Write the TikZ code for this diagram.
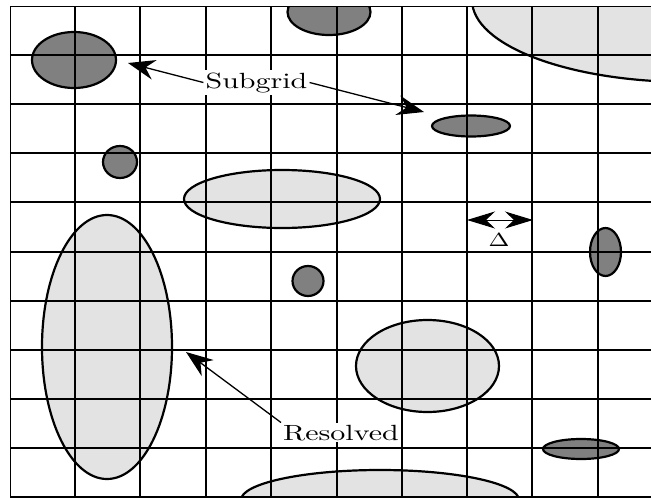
\documentclass[tikz,border=0pt]{standalone}
\usetikzlibrary{arrows.meta}
\definecolor{darkfill}{HTML}{808080}
\definecolor{lightfill}{HTML}{E3E3E3}
\begin{document}
\begin{tikzpicture}[x=1pt,y=-1pt,
  blob/.style={line width=2.2pt, draw=black},
  darkblob/.style={blob, fill=darkfill},
  lightblob/.style={blob, fill=lightfill},
  gridline/.style={line width=1.3pt},
  pointer/.style={line width=1.3pt, -{Stealth[length=27pt,width=20pt,inset=9pt]}},
  lbl/.style={fill=white, inner sep=2pt, font=\fontsize{10}{12}\selectfont}
]
\useasboundingbox (0,0) rectangle (651,498);
\begin{scope}
  \clip (10,6) rectangle (663,497);
  % light ellipses
  \draw[lightblob] (688,0) ellipse [x radius=216, y radius=82];
  \draw[lightblob] (282,199) ellipse [x radius=98, y radius=29];
  \draw[lightblob] (107,347) ellipse [x radius=65, y radius=132];
  \draw[lightblob] (427.5,366) ellipse [x radius=71.5, y radius=46];
  \draw[lightblob] (380,500) ellipse [x radius=139, y radius=30];
  % dark ellipses
  \draw[darkblob] (74,60) ellipse [x radius=42, y radius=28];
  \draw[darkblob] (329,12) ellipse [x radius=41.5, y radius=23];
  \draw[darkblob] (471,126) ellipse [x radius=39, y radius=10.5];
  \draw[darkblob] (120,162) ellipse [x radius=17, y radius=16];
  \draw[darkblob] (308,281) ellipse [x radius=15.5, y radius=15];
  \draw[darkblob] (605.5,252) ellipse [x radius=15.5, y radius=24];
  \draw[darkblob] (581,449) ellipse [x radius=38, y radius=10];
  % grid
  \foreach \gx in {10,75,140,206,271,337,402,467,532,598,663}
    \draw[gridline] (\gx,6) -- (\gx,497);
  \foreach \gy in {6,55,104,153,202,252,301,350,399,448,497}
    \draw[gridline] (10,\gy) -- (663,\gy);
\end{scope}
% labels
\node[lbl, anchor=base] (sub) at (256.5,88) {\scalebox{3.0}[2.2]{Subgrid}};
\node[lbl, anchor=base] (res) at (341,440) {\scalebox{3.0}[2.2]{Resolved}};
\coordinate (subL) at (128,63);
\coordinate (subR) at (424,112);
\coordinate (resT) at (186,352);
\draw[pointer] (sub.west) -- (subL);
\draw[pointer] (sub.east) -- (subR);
\draw[pointer] (res.north west) -- (resT);
% delta
\coordinate (dA) at (467,220);
\coordinate (dB) at (533,220);
\draw[line width=1pt, {Stealth[length=28pt,width=17pt,inset=9pt]}-{Stealth[length=28pt,width=17pt,inset=9pt]}] (dA) -- (dB);
\node[inner sep=0pt, font=\fontsize{10}{12}\selectfont] (delta) at (499,240) {\scalebox{2.5}[1.9]{$\Delta$}};
\end{tikzpicture}
\end{document}
